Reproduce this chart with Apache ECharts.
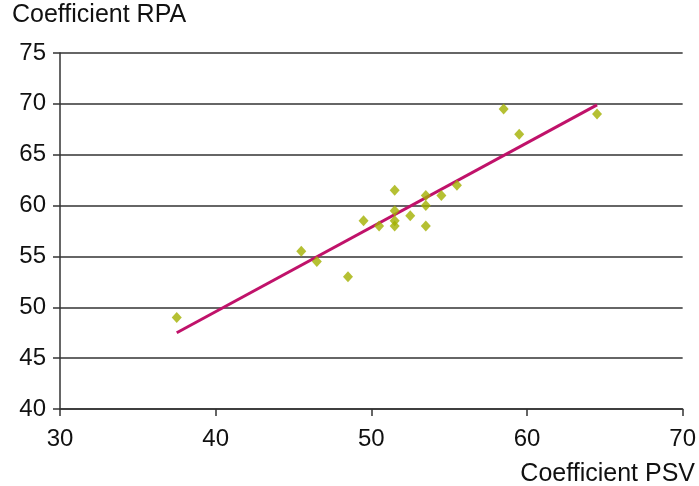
<!DOCTYPE html>
<html>
<head>
<meta charset="utf-8">
<script src="https://cdn.jsdelivr.net/npm/echarts@6/dist/echarts.min.js"></script>
<style>
  html, body { margin: 0; padding: 0; background: #fff; }
  #chart { width: 699px; height: 486px; }
</style>
</head>
<body>
<div id="chart"></div>
<script>
// measured points: coefficient PSV (x) vs coefficient RPA (y)
var psv = [37.5, 45.5, 46.5, 48.5, 49.5, 50.5, 51.5, 51.5, 51.5, 51.5, 52.5, 53.5, 53.5, 53.5, 54.5, 55.5, 58.5, 59.5, 64.5];
var rpa = [49, 55.5, 54.5, 53, 58.5, 58, 61.5, 59.5, 58.5, 58, 59, 61, 60, 58, 61, 62, 69.5, 67, 69];
// regression line end points
var fitX = [37.5, 64.5];
var fitY = [47.5, 69.9];
var xTicks = [30, 40, 50, 60, 70];
var yTicks = [40, 45, 50, 55, 60, 65, 70, 75];

var font = 'Liberation Sans, Arial, sans-serif';
var chart = echarts.init(document.getElementById('chart'));

chart.setOption({
  animation: false,
  grid: { left: 60, right: 15, top: 53, bottom: 77 },
  xAxis: {
    type: 'value',
    min: xTicks[0],
    max: xTicks[xTicks.length - 1],
    interval: 10,
    axisLine: { show: true, lineStyle: { color: '#333', width: 1.5 } },
    axisTick: { show: true, length: 7, lineStyle: { color: '#333', width: 1.5 } },
    axisLabel: { color: '#111', fontSize: 24, fontFamily: font, margin: 18 },
    splitLine: { show: false }
  },
  yAxis: {
    type: 'value',
    min: yTicks[0],
    max: yTicks[yTicks.length - 1],
    interval: 5,
    axisLine: { show: true, lineStyle: { color: '#333', width: 1.5 } },
    axisTick: { show: true, length: 7, lineStyle: { color: '#333', width: 1.5 } },
    axisLabel: { color: '#111', fontSize: 24, fontFamily: font, margin: 14, padding: [0, 0, 8, 0] },
    splitLine: { show: true, lineStyle: { color: '#333', width: 1.5 } }
  },
  graphic: [
    { type: 'text', left: 12, top: 3,
      style: { text: 'Coefficient RPA', fontSize: 25, fontFamily: font, fill: '#111' } },
    { type: 'text', right: 4, top: 462,
      style: { text: 'Coefficient PSV', fontSize: 25, fontFamily: font, fill: '#111' } }
  ],
  series: [
    {
      type: 'line',
      data: fitX.map(function (x, i) { return [x, fitY[i]]; }),
      showSymbol: false,
      lineStyle: { color: '#c0126a', width: 3 },
      z: 2
    },
    {
      type: 'scatter',
      data: psv.map(function (x, i) { return [x, rpa[i]]; }),
      symbol: 'diamond',
      symbolSize: [10, 11],
      itemStyle: { color: '#a2b000' },
      z: 3
    }
  ]
});
</script>
</body>
</html>
